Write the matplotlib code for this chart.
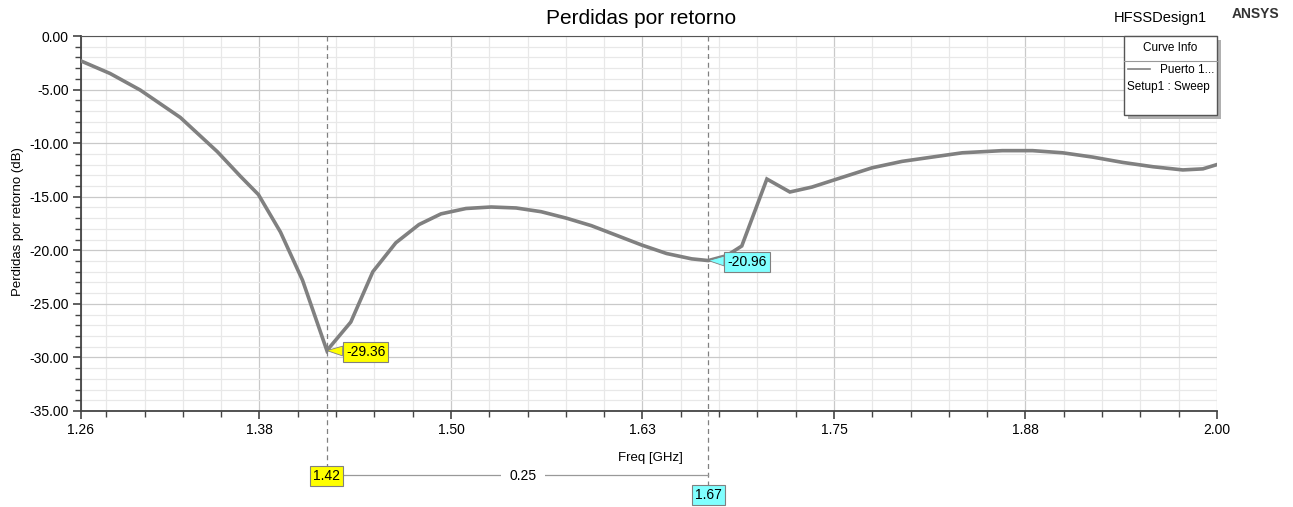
import matplotlib
matplotlib.use("Agg")
import matplotlib.pyplot as plt
from matplotlib.ticker import MultipleLocator, FixedLocator
from matplotlib.patches import Rectangle

plt.rcParams['font.family'] = ['Liberation Sans', 'DejaVu Sans']

freq = [1.2585, 1.2775, 1.2971, 1.3233, 1.3475, 1.3626, 1.3743, 1.3887, 1.4031, 1.419,
        1.4346, 1.4490, 1.4640, 1.4791, 1.4935, 1.5098, 1.5262, 1.5425, 1.5589, 1.5753,
        1.5916, 1.6080, 1.6243, 1.6407, 1.6571, 1.668, 1.68, 1.6898, 1.7062, 1.7212,
        1.7356, 1.7552, 1.7749, 1.7945, 1.8141, 1.8338, 1.8599, 1.8796, 1.8992, 1.9188,
        1.9385, 1.9581, 1.9777, 1.9908, 2.0]
s11 = [-2.33, -3.5, -5.04, -7.6, -10.8, -13.1, -14.8, -18.3, -22.8, -29.36,
       -26.7, -22.0, -19.3, -17.6, -16.6, -16.1, -15.96, -16.05, -16.4, -17.0,
       -17.7, -18.6, -19.5, -20.3, -20.8, -20.96, -20.5, -19.6, -13.35, -14.56,
       -14.1, -13.2, -12.3, -11.7, -11.3, -10.9, -10.7, -10.7, -10.9, -11.3,
       -11.8, -12.2, -12.5, -12.4, -12.0]

xtick_vals = [1.2585, 1.375, 1.5, 1.625, 1.75, 1.875, 2.0]
xtick_labels = ["1.26", "1.38", "1.50", "1.63", "1.75", "1.88", "2.00"]
ytick_vals = [0, -5, -10, -15, -20, -25, -30, -35]
ytick_labels = ["0.00", "-5.00", "-10.00", "-15.00", "-20.00", "-25.00", "-30.00", "-35.00"]

m1_x, m1_y, m1_label, m1_xlabel = 1.419, -29.36, "-29.36", "1.42"
m2_x, m2_y, m2_label, m2_xlabel = 1.668, -20.96, "-20.96", "1.67"
delta_label = "0.25"

W, H = 1293, 507
fig = plt.figure(figsize=(W / 100, H / 100), dpi=100)
L, R, T, B = 81, 1217, 36, 411
ax = fig.add_axes([L / W, 1 - B / H, (R - L) / W, (B - T) / H])

ax.set_xlim(1.2585, 2.0)
ax.set_ylim(-35, 0)
ax.set_xticks(xtick_vals)
ax.set_xticklabels(xtick_labels, fontsize=10)
ax.set_yticks(ytick_vals)
ax.set_yticklabels(ytick_labels, fontsize=10)
ax.xaxis.set_minor_locator(FixedLocator([1.275 + 0.025 * i for i in range(30) if 1.275 + 0.025 * i < 2.0]))
ax.yaxis.set_minor_locator(MultipleLocator(1))
ax.grid(which="major", color="#c9c9c9", lw=0.9)
ax.grid(which="minor", color="#e8e8e8", lw=0.9)
ax.set_axisbelow(True)
ax.tick_params(which="major", length=6, direction="out", color="#444444", width=1.2, pad=3)
ax.tick_params(which="minor", length=4, direction="out", color="#444444", width=1.0)
ax.spines["right"].set_visible(False)
for s in ["left", "bottom"]:
    ax.spines[s].set_color("#444444")
    ax.spines[s].set_linewidth(1.3)
ax.spines["top"].set_color("#555555")

ax.plot(freq, s11, color="#808080", lw=2.6, solid_joinstyle="miter", zorder=5)

def px_of(x):
    return ax.transData.transform((x, 0))[0]

# marker vertical dashed lines (extend below axes)
for mx, ybot in [(m1_x, 466), (m2_x, 485)]:
    ax.plot([mx, mx], [0, -35], color="#808080", lw=0.9, ls=(0, (4, 3)), zorder=4)
    px = px_of(mx)
    fig.add_artist(plt.Line2D([px / W, px / W], [1 - B / H, 1 - ybot / H],
                              color="#808080", lw=0.9, ls=(0, (4, 3))))

# marker labels in plot
def marker_box(x, y, label, fc):
    ax.annotate(label, xy=(x, y), xytext=(x + 0.0125, y - 0.1), fontsize=10, va="center", ha="left",
                bbox=dict(boxstyle="square,pad=0.22", fc=fc, ec="#808080", lw=0.8),
                arrowprops=dict(arrowstyle="wedge,tail_width=0.7", fc=fc, ec="#808080", lw=0.6,
                                shrinkA=0, shrinkB=0), zorder=10)

marker_box(m1_x, m1_y, m1_label, "#ffff00")
marker_box(m2_x, m2_y, m2_label, "#80ffff")

p1 = px_of(m1_x)
p2 = px_of(m2_x)
fig.text(p1 / W, 1 - 476 / H, m1_xlabel, fontsize=10, ha="center", va="center",
         bbox=dict(boxstyle="square,pad=0.22", fc="#ffff00", ec="#808080", lw=0.8))
fig.text(p2 / W, 1 - 495 / H, m2_xlabel, fontsize=10, ha="center", va="center",
         bbox=dict(boxstyle="square,pad=0.22", fc="#80ffff", ec="#808080", lw=0.8))
fig.add_artist(plt.Line2D([(p1 + 14) / W, p2 / W], [1 - 475 / H, 1 - 475 / H], color="#999999", lw=0.9))
fig.text((p1 + p2) / 2 / W + 0.004, 1 - 476 / H, delta_label, fontsize=10, ha="center", va="center",
         bbox=dict(boxstyle="square,pad=0.6", fc="white", ec="none"))

# titles and labels
fig.text(641 / W, 1 - 18 / H, "Perdidas por retorno", fontsize=15, ha="center", va="center")
fig.text(1160 / W, 1 - 18 / H, "HFSSDesign1", fontsize=10.5, ha="center", va="center")
fig.text(1255 / W, 1 - 14 / H, "ANSYS", fontsize=10, ha="center", va="center", weight="bold", color="#333333")
ax.set_xlabel("Freq [GHz]", fontsize=9.5)
ax.xaxis.set_label_coords((650 - L) / (R - L), -(452 - B) / (B - T))
fig.text(18 / W, 1 - 222 / H, "Perdidas por retorno (dB)", fontsize=9.5, rotation=90, ha="center", va="center")

# legend box
lx0, lx1, ly0, ly1 = 1124, 1217, 36, 115
fig.add_artist(Rectangle(((lx0 + 4) / W, 1 - (ly1 + 4) / H), (lx1 - lx0) / W, (ly1 - ly0) / H,
                         transform=fig.transFigure, fc="#b0b0b0", ec="none", zorder=20))
fig.add_artist(Rectangle((lx0 / W, 1 - ly1 / H), (lx1 - lx0) / W, (ly1 - ly0) / H,
                         transform=fig.transFigure, fc="white", ec="#555555", lw=1.0, zorder=21))
fig.add_artist(plt.Line2D([lx0 / W, lx1 / W], [1 - 61 / H, 1 - 61 / H], color="#999999", lw=0.8, zorder=22))
fig.text((lx0 + lx1) / 2 / W, 1 - 48 / H, "Curve Info", fontsize=8.5, ha="center", va="center", zorder=23)
fig.add_artist(plt.Line2D([1128 / W, 1150 / W], [1 - 69 / H, 1 - 69 / H], color="#808080", lw=1.2, zorder=22))
fig.text(1160 / W, 1 - 70 / H, "Puerto 1...", fontsize=8.5, ha="left", va="center", zorder=23)
fig.text(1127 / W, 1 - 87 / H, "Setup1 : Sweep", fontsize=8.5, ha="left", va="center", zorder=23)

fig.savefig("out.png", dpi=100)
